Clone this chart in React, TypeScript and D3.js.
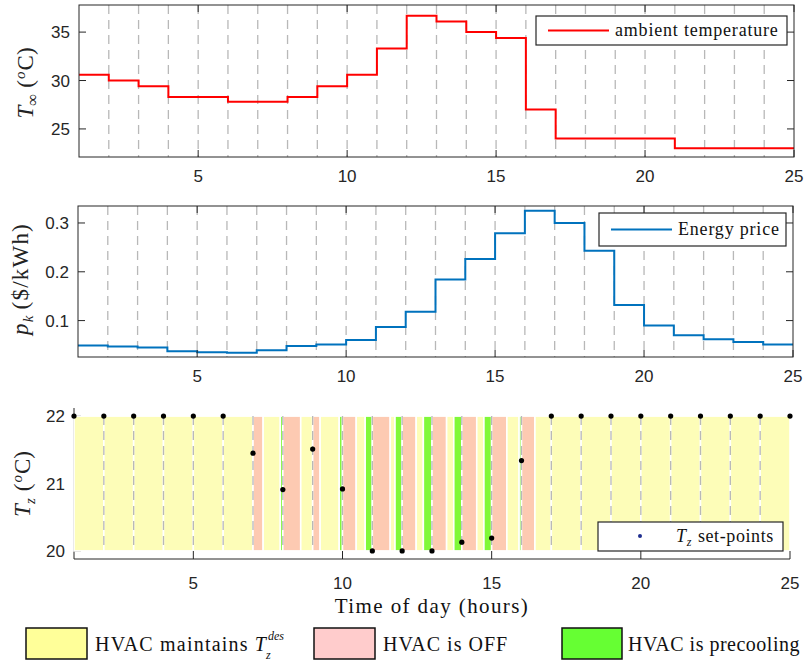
import React from "react";
import * as d3 from "d3";

const width = 806;
const height = 662;

// hours of day (step starts) and the end of the last step
const hours = [1, 2, 3, 4, 5, 6, 7, 8, 9, 10, 11, 12, 13, 14, 15, 16, 17, 18, 19, 20, 21, 22, 23, 24, 25];
const xTicks = [5, 10, 15, 20, 25];

// ambient temperature per hour (degC), hours 1..24
const ambientTemp = [30.6, 30.0, 29.4, 28.3, 28.3, 27.8, 27.8, 28.3, 29.4, 30.6, 33.3, 36.7, 36.1, 35.0, 34.4, 27.0, 24.0, 24.0, 24.0, 24.0, 23.0, 23.0, 23.0, 23.0];
const tempTicks = [25, 30, 35];

// energy price per hour ($/kWh), hours 1..24
const energyPrice = [0.049, 0.047, 0.045, 0.037, 0.035, 0.034, 0.039, 0.048, 0.051, 0.06, 0.087, 0.118, 0.184, 0.226, 0.279, 0.325, 0.3, 0.243, 0.132, 0.09, 0.07, 0.062, 0.056, 0.051];
const priceTicks = [0.1, 0.2, 0.3];

// zone temperature set-points at hours 1..25
const setPoints = [22, 22, 22, 22, 22, 22, 21.45, 20.91, 21.51, 20.92, 20.0, 20.0, 20.0, 20.13, 20.19, 21.34, 22, 22, 22, 22, 22, 22, 22, 22, 22];
const tzTicks = [20, 21, 22];

// share of each hour (1..24) with HVAC off (start of hour) and precooling (end of hour)
const offShare = [0, 0, 0, 0, 0, 0, 0.34, 0.6, 0.25, 0.46, 0.6, 0.47, 0.49, 0.5, 0.51, 0.45, 0, 0, 0, 0, 0, 0, 0, 0];
const precoolShare = [0, 0, 0, 0, 0, 0, 0.084, 0, 0.11, 0.24, 0.24, 0.29, 0.27, 0.26, 0.08, 0, 0, 0, 0, 0, 0, 0, 0, 0];

const axisColor = "#262626";
const gridColor = "#b8b8b8";
const sans = "Liberation Sans, Arimo, Arial, Helvetica, sans-serif";
const serif = "Liberation Serif, Tinos, Times New Roman, DejaVu Serif, serif";

const stripeColors = { maintain: "#fdfdb8", off: "#fdcab2", precool: "#80f838" };
const legendColors = { maintain: "#ffff99", off: "#ffcccc", precool: "#66ff33" };

type Box = { x0: number; x1: number; y0: number; y1: number };

const StepPanel = ({ box, values, domain, ticks, color, tickFmt, legend, legendBox, label }: any) => {
  const x = d3.scaleLinear().domain([1, 25]).range([box.x0, box.x1]);
  const y = d3.scaleLinear().domain(domain).range([box.y1, box.y0]);
  const pts = hours.map((h, i) => [h, values[Math.min(i, values.length - 1)]] as [number, number]);
  const line = d3
    .line<[number, number]>()
    .x(d => x(d[0]))
    .y(d => y(d[1]))
    .curve(d3.curveStepAfter);
  const tl = 7;
  const my = (legendBox.y0 + legendBox.y1) / 2;
  return (
    <g>
      {hours.slice(1, 24).map(h => (
        <line key={h} x1={x(h)} x2={x(h)} y1={box.y0} y2={box.y1} stroke={gridColor} strokeWidth={1.3} strokeDasharray="9,6" />
      ))}
      <path d={line(pts) || ""} fill="none" stroke={color} strokeWidth={2} />
      <rect x={box.x0} y={box.y0} width={box.x1 - box.x0} height={box.y1 - box.y0} fill="none" stroke={axisColor} strokeWidth={1} />
      {xTicks.map(t => (
        <g key={t}>
          <line x1={x(t)} x2={x(t)} y1={box.y1} y2={box.y1 - tl} stroke={axisColor} />
          <line x1={x(t)} x2={x(t)} y1={box.y0} y2={box.y0 + tl} stroke={axisColor} />
          <text x={x(t)} y={box.y1 + 25} textAnchor="middle" fontFamily={sans} fontSize={17} fill={axisColor}>
            {t}
          </text>
        </g>
      ))}
      {ticks.map((t: number) => (
        <g key={t}>
          <line x1={box.x0} x2={box.x0 + tl} y1={y(t)} y2={y(t)} stroke={axisColor} />
          <line x1={box.x1} x2={box.x1 - tl} y1={y(t)} y2={y(t)} stroke={axisColor} />
          <text x={box.x0 - 9} y={y(t) + 6} textAnchor="end" fontFamily={sans} fontSize={17} fill={axisColor}>
            {tickFmt(t)}
          </text>
        </g>
      ))}
      <rect x={legendBox.x0} y={legendBox.y0} width={legendBox.x1 - legendBox.x0} height={legendBox.y1 - legendBox.y0} fill="#fff" stroke={axisColor} strokeWidth={1.2} />
      <line x1={legendBox.x0 + 12} x2={legendBox.x0 + 73} y1={my} y2={my} stroke={color} strokeWidth={2} />
      <text x={legendBox.x0 + 79} y={my + 5} fontFamily={serif} fontSize={18} letterSpacing={0.8} fill="#111">
        {legend}
      </text>
      {label}
    </g>
  );
};

const App = () => {
  const top: Box = { x0: 79, x1: 794, y0: 5, y1: 157 };
  const mid: Box = { x0: 78, x1: 793, y0: 206, y1: 357 };
  const bot: Box = { x0: 74, x1: 790, y0: 408, y1: 559 };

  const xb = d3.scaleLinear().domain([1, 25]).range([bot.x0, bot.x1]);
  const yb = d3.scaleLinear().domain([19.88, 22.12]).range([bot.y1, bot.y0]);

  // build the hourly mode stripes
  const stripes: { a: number; b: number; mode: "maintain" | "off" | "precool" }[] = [];
  hours.slice(0, 24).forEach((h, i) => {
    const off = offShare[i];
    const pre = precoolShare[i];
    if (off > 0) stripes.push({ a: h, b: h + off, mode: "off" });
    stripes.push({ a: h + off, b: h + 1 - pre, mode: "maintain" });
    if (pre > 0) stripes.push({ a: h + 1 - pre, b: h + 1, mode: "precool" });
  });

  const tempLabel = (
    <text transform="translate(33,83) rotate(-90)" textAnchor="middle" fontFamily={serif} fontSize={23} fill="#222">
      <tspan fontStyle="italic">T</tspan>
      <tspan fontSize={17} dy={5}>∞</tspan>
      <tspan dy={-5} dx={6}>(</tspan>
      <tspan fontSize={15} dy={-8} dx={1} fontStyle="italic">o</tspan>
      <tspan dy={8} dx={1}>C)</tspan>
    </text>
  );
  const priceLabel = (
    <text transform="translate(28,279) rotate(-90)" textAnchor="middle" fontFamily={serif} fontSize={23} letterSpacing={1.2} fill="#222">
      <tspan fontStyle="italic">p</tspan>
      <tspan fontSize={15} dy={5} fontStyle="italic">k</tspan>
      <tspan dy={-5} dx={5}>($/kWh)</tspan>
    </text>
  );

  return (
    <svg width={width} height={height} style={{ position: "absolute", left: 0, top: 0, background: "#fff" }}>
      <StepPanel
        box={top}
        values={ambientTemp}
        domain={[22.1, 37.8]}
        ticks={tempTicks}
        color="#ff0000"
        tickFmt={(t: number) => String(t)}
        legend="ambient temperature"
        legendBox={{ x0: 536, x1: 787, y0: 16, y1: 45 }}
        label={tempLabel}
      />
      <StepPanel
        box={mid}
        values={energyPrice}
        domain={[0.0254, 0.3348]}
        ticks={priceTicks}
        color="#0072bd"
        tickFmt={(t: number) => d3.format(".1f")(t)}
        legend="Energy price"
        legendBox={{ x0: 599, x1: 786, y0: 213, y1: 246 }}
        label={priceLabel}
      />

      {/* bottom panel: HVAC modes and set-points */}
      <g>
        <line x1={bot.x0} x2={bot.x0} y1={bot.y0} y2={bot.y1} stroke={axisColor} />
        <line x1={bot.x0} x2={bot.x1} y1={bot.y1} y2={bot.y1} stroke={axisColor} />
        {tzTicks.map(t => (
          <g key={t}>
            <line x1={bot.x0} x2={bot.x0 + 7} y1={yb(t)} y2={yb(t)} stroke={axisColor} />
            <text x={bot.x0 - 9} y={yb(t) + 6} textAnchor="end" fontFamily={sans} fontSize={17} fill={axisColor}>
              {t}
            </text>
          </g>
        ))}
        {stripes.map((s, i) => (
          <rect
            key={i}
            x={xb(s.a)}
            y={yb(22)}
            width={xb(s.b) - xb(s.a)}
            height={yb(20) - yb(22)}
            fill={stripeColors[s.mode]}
            stroke="#fff"
            strokeWidth={1.6}
          />
        ))}
        {hours.slice(1, 24).map(h => (
          <line key={h} x1={xb(h)} x2={xb(h)} y1={yb(22)} y2={yb(20)} stroke={gridColor} strokeWidth={1.3} strokeDasharray="9,6" />
        ))}
        {xTicks.map(t => (
          <g key={t}>
            <line x1={xb(t)} x2={xb(t)} y1={bot.y1} y2={bot.y1 - 8} stroke={axisColor} />
            <text x={xb(t)} y={bot.y1 + 30} textAnchor="middle" fontFamily={sans} fontSize={17} fill={axisColor}>
              {t}
            </text>
          </g>
        ))}
        {setPoints.map((v, i) => (
          <circle key={i} cx={xb(hours[i])} cy={yb(v)} r={2.6} fill="#000" />
        ))}
        <rect x={598} y={522} width={185} height={29} fill="#fff" stroke={axisColor} strokeWidth={1.2} />
        <circle cx={640} cy={536} r={2} fill="#1f2f8f" />
        <text x={676} y={542} fontFamily={serif} fontSize={18} letterSpacing={0.6} fill="#111">
          <tspan fontStyle="italic">T</tspan>
          <tspan fontSize={12} dy={4} fontStyle="italic">z</tspan>
          <tspan dy={-4} dx={6}>set-points</tspan>
        </text>
        <text transform="translate(30,484) rotate(-90)" textAnchor="middle" fontFamily={serif} fontSize={23} fill="#222">
          <tspan fontStyle="italic">T</tspan>
          <tspan fontSize={15} dy={5} fontStyle="italic">z</tspan>
          <tspan dy={-5} dx={7}>(</tspan>
          <tspan fontSize={15} dy={-8} dx={1} fontStyle="italic">o</tspan>
          <tspan dy={8} dx={1}>C)</tspan>
        </text>
        <text x={432} y={613} textAnchor="middle" fontFamily={serif} fontSize={21} letterSpacing={1.4} fill="#111">
          Time of day (hours)
        </text>
      </g>

      {/* mode legend */}
      <g>
        <rect x={26} y={628} width={61} height={31} fill={legendColors.maintain} stroke="#111" strokeWidth={1.5} />
        <text x={95} y={651} fontFamily={serif} fontSize={20} letterSpacing={1.2} fill="#111">
          HVAC maintains <tspan fontStyle="italic">T</tspan>
        </text>
        <text x={268} y={640} fontFamily={serif} fontSize={12} fontStyle="italic" fill="#111">
          des
        </text>
        <text x={266} y={659} fontFamily={serif} fontSize={12} fontStyle="italic" fill="#111">
          z
        </text>
        <rect x={314} y={628} width={61} height={31} fill={legendColors.off} stroke="#111" strokeWidth={1.5} />
        <text x={383} y={651} fontFamily={serif} fontSize={20} letterSpacing={1.0} fill="#111">
          HVAC is OFF
        </text>
        <rect x={562} y={628} width={60} height={31} fill={legendColors.precool} stroke="#111" strokeWidth={1.5} />
        <text x={628} y={651} fontFamily={serif} fontSize={20} letterSpacing={0.5} fill="#111">
          HVAC is precooling
        </text>
      </g>
    </svg>
  );
};

export default App;
